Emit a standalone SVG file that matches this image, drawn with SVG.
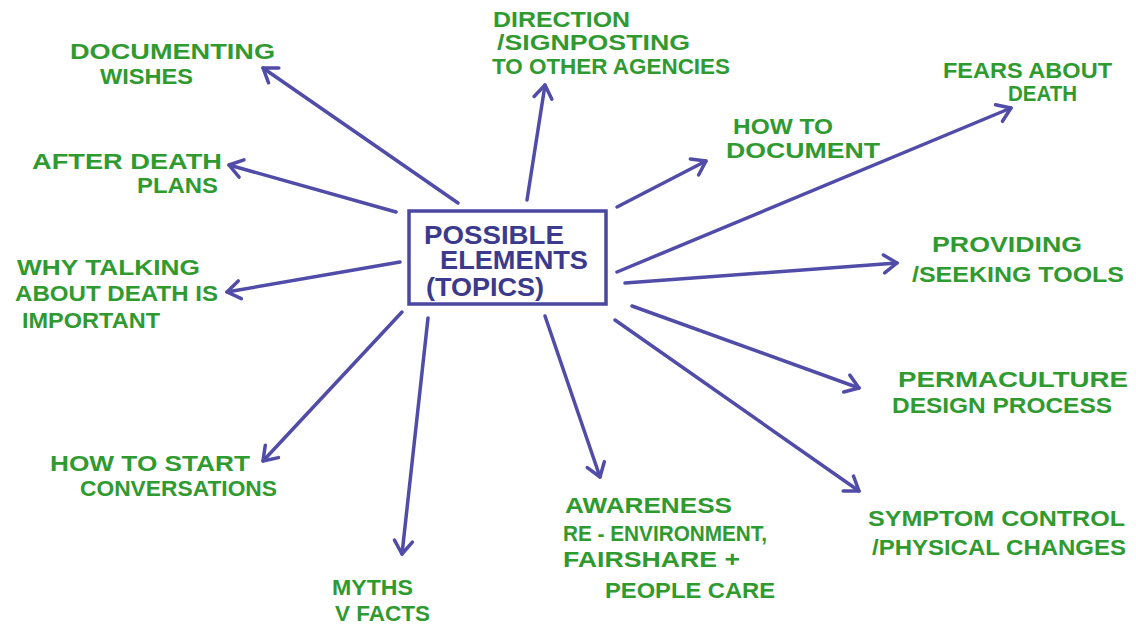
<svg xmlns="http://www.w3.org/2000/svg" width="1136" height="628" viewBox="0 0 1136 628">
<defs>
<style>
.t{font-family:"Liberation Sans",Arial,sans-serif;font-weight:bold;font-size:22px;fill:#2f9a30}
.c{font-family:"Liberation Sans",Arial,sans-serif;font-weight:bold;font-size:25px;fill:#3b3a8c}
.e{stroke:#504ca8;stroke-width:3.5;fill:none;stroke-linecap:round;marker-end:url(#ah)}
</style>
<marker id="ah" markerUnits="userSpaceOnUse" markerWidth="30" markerHeight="30" refX="0" refY="0" viewBox="-16 -15 20 30" orient="auto">
<path d="M-13,-9 L0,0 L-13,9" fill="none" stroke="#504ca8" stroke-width="3.5" stroke-linecap="round" stroke-linejoin="round"/>
</marker>
</defs>
<rect width="1136" height="628" fill="#ffffff"/>
<g id="connectors">
<line class="e" x1="458" y1="203" x2="263" y2="68"/>
<line class="e" x1="527" y1="200" x2="545" y2="85"/>
<line class="e" x1="617" y1="207" x2="706" y2="161"/>
<line class="e" x1="617" y1="272" x2="1011" y2="108"/>
<line class="e" x1="625" y1="283" x2="897" y2="263"/>
<line class="e" x1="632" y1="306" x2="859" y2="388"/>
<line class="e" x1="615" y1="320" x2="859" y2="491"/>
<line class="e" x1="545" y1="316" x2="600" y2="477"/>
<line class="e" x1="428" y1="318" x2="402" y2="554"/>
<line class="e" x1="402" y1="312" x2="263" y2="461"/>
<line class="e" x1="400" y1="262" x2="227" y2="292"/>
<line class="e" x1="396" y1="212" x2="229" y2="165"/>
</g>
<g id="center">
<rect x="409" y="211" width="197" height="93" fill="none" stroke="#4a47a0" stroke-width="3.5"/>
<text class="c" x="424" y="244" textLength="140" lengthAdjust="spacingAndGlyphs">POSSIBLE</text>
<text class="c" x="440" y="269" textLength="148" lengthAdjust="spacingAndGlyphs">ELEMENTS</text>
<text class="c" x="426" y="296" textLength="118" lengthAdjust="spacingAndGlyphs">(TOPICS)</text>
</g>
<g id="documenting-wishes">
<text class="t" x="70" y="59" textLength="205" lengthAdjust="spacingAndGlyphs">DOCUMENTING</text>
<text class="t" x="100" y="84" textLength="93" lengthAdjust="spacingAndGlyphs">WISHES</text>
</g>
<g id="direction">
<text class="t" x="493" y="27" textLength="137" lengthAdjust="spacingAndGlyphs">DIRECTION</text>
<text class="t" x="497" y="50" textLength="193" lengthAdjust="spacingAndGlyphs">/SIGNPOSTING</text>
<text class="t" x="492" y="74" textLength="238" lengthAdjust="spacingAndGlyphs">TO OTHER AGENCIES</text>
</g>
<g id="fears-about-death">
<text class="t" x="943" y="78" textLength="169" lengthAdjust="spacingAndGlyphs">FEARS ABOUT</text>
<text class="t" x="1008" y="101" textLength="69" lengthAdjust="spacingAndGlyphs">DEATH</text>
</g>
<g id="how-to-document">
<text class="t" x="733" y="134" textLength="100" lengthAdjust="spacingAndGlyphs">HOW TO</text>
<text class="t" x="726" y="158" textLength="154" lengthAdjust="spacingAndGlyphs">DOCUMENT</text>
</g>
<g id="after-death-plans">
<text class="t" x="32" y="169" textLength="190" lengthAdjust="spacingAndGlyphs">AFTER DEATH</text>
<text class="t" x="137" y="193" textLength="81" lengthAdjust="spacingAndGlyphs">PLANS</text>
</g>
<g id="why-talking">
<text class="t" x="17" y="275" textLength="183" lengthAdjust="spacingAndGlyphs">WHY TALKING</text>
<text class="t" x="15" y="301" textLength="203" lengthAdjust="spacingAndGlyphs">ABOUT DEATH IS</text>
<text class="t" x="22" y="328" textLength="138" lengthAdjust="spacingAndGlyphs">IMPORTANT</text>
</g>
<g id="providing-tools">
<text class="t" x="932" y="252" textLength="150" lengthAdjust="spacingAndGlyphs">PROVIDING</text>
<text class="t" x="912" y="282" textLength="212" lengthAdjust="spacingAndGlyphs">/SEEKING TOOLS</text>
</g>
<g id="permaculture">
<text class="t" x="898" y="387" textLength="230" lengthAdjust="spacingAndGlyphs">PERMACULTURE</text>
<text class="t" x="892" y="413" textLength="220" lengthAdjust="spacingAndGlyphs">DESIGN PROCESS</text>
</g>
<g id="how-to-start">
<text class="t" x="50" y="471" textLength="200" lengthAdjust="spacingAndGlyphs">HOW TO START</text>
<text class="t" x="80" y="496" textLength="197" lengthAdjust="spacingAndGlyphs">CONVERSATIONS</text>
</g>
<g id="symptom-control">
<text class="t" x="868" y="526" textLength="257" lengthAdjust="spacingAndGlyphs">SYMPTOM CONTROL</text>
<text class="t" x="872" y="555" textLength="254" lengthAdjust="spacingAndGlyphs">/PHYSICAL CHANGES</text>
</g>
<g id="awareness">
<text class="t" x="565" y="513" textLength="167" lengthAdjust="spacingAndGlyphs">AWARENESS</text>
<text class="t" x="563" y="541" textLength="204" lengthAdjust="spacingAndGlyphs">RE - ENVIRONMENT,</text>
<text class="t" x="563" y="567" textLength="177" lengthAdjust="spacingAndGlyphs">FAIRSHARE +</text>
<text class="t" x="605" y="598" textLength="170" lengthAdjust="spacingAndGlyphs">PEOPLE CARE</text>
</g>
<g id="myths">
<text class="t" x="332" y="595" textLength="81" lengthAdjust="spacingAndGlyphs">MYTHS</text>
<text class="t" x="335" y="621" textLength="95" lengthAdjust="spacingAndGlyphs">V FACTS</text>
</g>
</svg>
